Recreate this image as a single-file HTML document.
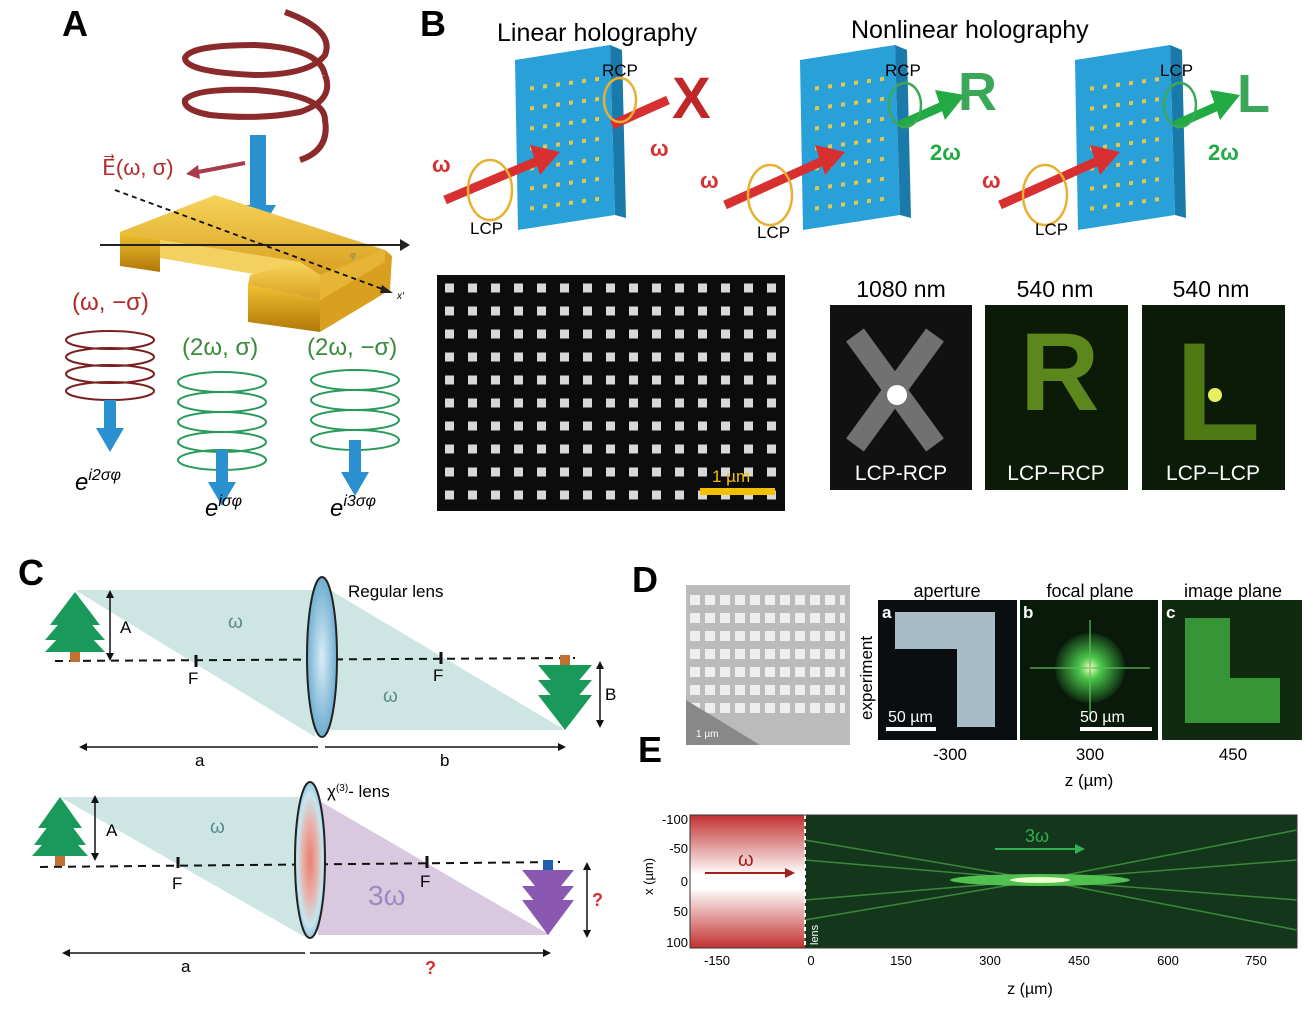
<!DOCTYPE html>
<html><head><meta charset="utf-8"><style>
body{margin:0;background:#fff;}
svg text{font-family:"Liberation Sans",sans-serif;}
.lbl{font-family:"Liberation Sans Narrow","Liberation Sans",sans-serif;font-weight:bold;font-size:36px;}
</style></head><body>
<svg width="1304" height="1020" viewBox="0 0 1304 1020" xmlns="http://www.w3.org/2000/svg">
<defs>
<linearGradient id="gold" x1="0" y1="0" x2="0" y2="1"><stop offset="0" stop-color="#f6d45a"/><stop offset="1" stop-color="#d9a020"/></linearGradient>
<linearGradient id="goldF" x1="0" y1="0" x2="0" y2="1"><stop offset="0" stop-color="#f0c030"/><stop offset="1" stop-color="#b07808"/></linearGradient>
<radialGradient id="lens" cx="0.5" cy="0.5" r="0.6"><stop offset="0" stop-color="#d8eef6"/><stop offset="1" stop-color="#5aa0c8"/></radialGradient>
<radialGradient id="lens3" cx="0.5" cy="0.5" r="0.6"><stop offset="0" stop-color="#e88070"/><stop offset="0.4" stop-color="#e8b0a8"/><stop offset="0.7" stop-color="#c8e6f0"/><stop offset="1" stop-color="#5aa0c8"/></radialGradient>
<linearGradient id="red" x1="0" y1="0" x2="0" y2="1"><stop offset="0" stop-color="#c23030"/><stop offset="0.45" stop-color="#fff"/><stop offset="0.55" stop-color="#fff"/><stop offset="1" stop-color="#c23030"/></linearGradient>
<radialGradient id="glowG" cx="0.5" cy="0.5" r="0.5"><stop offset="0" stop-color="#ffffc0"/><stop offset="0.3" stop-color="#4cc84c"/><stop offset="1" stop-color="#0c2a10"/></radialGradient>
</defs>

<!-- Panel A -->
<text x="62" y="36" class="lbl">A</text>
<g fill="none" stroke="#8b2a2a" stroke-width="6">
<path d="M285 12 Q335 30 325 55 Q310 75 255 75 Q185 72 185 58 Q190 45 255 45 Q320 48 325 75"/>
<path d="M325 75 Q335 100 300 112 Q260 120 210 115 Q183 110 185 100 Q195 88 255 90 Q325 95 325 120 Q330 150 300 160"/>
</g>
<rect x="250" y="135" width="16" height="75" fill="#2a90d0"/>
<polygon points="240,205 276,205 258,235" fill="#2a90d0"/>
<polygon points="300,262 385,250 390,262 320,300 320,275" fill="#e6b535"/>
<polygon points="120,232 215,195 385,250 320,275 300,262 160,240" fill="url(#gold)"/>
<polygon points="120,232 160,240 160,272 120,266" fill="url(#goldF)"/>
<polygon points="160,240 300,262 300,282 160,258" fill="#f3d060"/>
<polygon points="300,262 320,275 320,300 248,285 250,275" fill="url(#gold)"/>
<polygon points="248,285 320,300 320,332 248,322" fill="url(#goldF)"/>
<polygon points="320,300 385,262 385,250 392,256 390,290 320,332" fill="#d9a020"/>
<line x1="100" y1="245" x2="400" y2="245" stroke="#222" stroke-width="2"/>
<polygon points="400,239 410,245 400,251" fill="#222"/>
<line x1="115" y1="190" x2="385" y2="290" stroke="#111" stroke-width="1.8" stroke-dasharray="5,4"/>
<polygon points="382,285 393,293 380,293" fill="#222"/>
<text x="397" y="299" font-size="10" font-style="italic">x′</text>
<text x="350" y="258" font-size="9" fill="#886">φ</text>
<text x="102" y="175" font-size="22" fill="#b02a2a" font-family="Liberation Serif">E⃗(ω, σ)</text>
<line x1="245" y1="163" x2="198" y2="172" stroke="#a83a4a" stroke-width="4"/>
<polygon points="198,165 186,174 200,179" fill="#a83a4a"/>
<text x="72" y="310" font-size="24" fill="#b02a2a" font-family="Liberation Serif">(ω, −σ)</text>
<text x="182" y="355" font-size="24" fill="#3a8a3a" font-family="Liberation Serif">(2ω, σ)</text>
<text x="307" y="355" font-size="24" fill="#3a8a3a" font-family="Liberation Serif">(2ω, −σ)</text>
<g fill="none" stroke="#7a2020" stroke-width="2"><ellipse cx="110" cy="340" rx="44" ry="9"/><ellipse cx="110" cy="357" rx="44" ry="9"/><ellipse cx="110" cy="374" rx="44" ry="9"/><ellipse cx="110" cy="391" rx="44" ry="9"/></g>
<g fill="none" stroke="#2a9a5a" stroke-width="2"><ellipse cx="222" cy="382" rx="44" ry="10"/><ellipse cx="222" cy="402" rx="44" ry="10"/><ellipse cx="222" cy="422" rx="44" ry="10"/><ellipse cx="222" cy="442" rx="44" ry="10"/><ellipse cx="222" cy="460" rx="44" ry="10"/></g>
<g fill="none" stroke="#2a9a5a" stroke-width="2"><ellipse cx="355" cy="380" rx="44" ry="10"/><ellipse cx="355" cy="400" rx="44" ry="10"/><ellipse cx="355" cy="420" rx="44" ry="10"/><ellipse cx="355" cy="440" rx="44" ry="10"/></g>
<g fill="#2a90d0">
<rect x="104" y="400" width="12" height="30"/><polygon points="96,428 124,428 110,452"/>
<rect x="216" y="450" width="12" height="35"/><polygon points="208,482 236,482 222,506"/>
<rect x="349" y="440" width="12" height="35"/><polygon points="341,472 369,472 355,496"/>
</g>
<text x="75" y="490" font-size="24" font-family="Liberation Serif" font-style="italic">e<tspan dy="-10" font-size="16">i2σφ</tspan></text>
<text x="205" y="516" font-size="24" font-family="Liberation Serif" font-style="italic">e<tspan dy="-10" font-size="16">iσφ</tspan></text>
<text x="330" y="516" font-size="24" font-family="Liberation Serif" font-style="italic">e<tspan dy="-10" font-size="16">i3σφ</tspan></text>

<!-- Panel B -->
<text x="420" y="36" class="lbl">B</text>
<text x="497" y="41" font-size="25">Linear holography</text>
<text x="851" y="38" font-size="25">Nonlinear holography</text>
<polygon points="515,60 610,45 615,215 518,230" fill="#2aa0d8"/>
<polygon points="610,45 622,50 626,218 615,215" fill="#1a7aaa"/>
<polygon points="800,60 895,45 900,215 803,230" fill="#2aa0d8"/>
<polygon points="895,45 907,50 911,218 900,215" fill="#1a7aaa"/>
<polygon points="1075,60 1170,45 1175,215 1078,230" fill="#2aa0d8"/>
<polygon points="1170,45 1182,50 1186,218 1175,215" fill="#1a7aaa"/>
<g fill="#e0c850">
<path d="M530 85h75M530 105h75M530 125h75M530 145h75M530 165h75M530 185h75M530 205h75" stroke="#e0c850" stroke-width="4" stroke-dasharray="4,9" transform="skewY(-8) translate(0,78)"/>
<path d="M815 85h75M815 105h75M815 125h75M815 145h75M815 165h75M815 185h75M815 205h75" stroke="#e0c850" stroke-width="4" stroke-dasharray="4,9" transform="skewY(-8) translate(0,118)"/>
<path d="M1090 85h75M1090 105h75M1090 125h75M1090 145h75M1090 165h75M1090 185h75M1090 205h75" stroke="#e0c850" stroke-width="4" stroke-dasharray="4,9" transform="skewY(-8) translate(0,157)"/>
</g>
<g>
<line x1="445" y1="200" x2="540" y2="160" stroke="#d83030" stroke-width="9"/><polygon points="530,145 560,152 540,175" fill="#d83030"/>
<line x1="725" y1="205" x2="825" y2="160" stroke="#d83030" stroke-width="9"/><polygon points="815,145 845,152 825,175" fill="#d83030"/>
<line x1="1000" y1="205" x2="1100" y2="160" stroke="#d83030" stroke-width="9"/><polygon points="1090,145 1120,152 1100,175" fill="#d83030"/>
<line x1="612" y1="125" x2="668" y2="100" stroke="#d83030" stroke-width="9"/>
<line x1="900" y1="125" x2="945" y2="105" stroke="#22aa44" stroke-width="9"/><polygon points="935,90 965,95 945,120" fill="#22aa44"/>
<line x1="1175" y1="125" x2="1220" y2="105" stroke="#22aa44" stroke-width="9"/><polygon points="1210,90 1240,95 1220,120" fill="#22aa44"/>
</g>
<text x="672" y="118" font-size="58" font-weight="bold" fill="#c02828">X</text>
<text x="958" y="110" font-size="54" font-weight="bold" fill="#3aa858">R</text>
<text x="1237" y="112" font-size="54" font-weight="bold" fill="#3aa858">L</text>
<g fill="none" stroke="#e8b030" stroke-width="2.5">
<ellipse cx="490" cy="190" rx="22" ry="30"/><ellipse cx="620" cy="100" rx="16" ry="22"/>
<ellipse cx="770" cy="195" rx="22" ry="30"/><ellipse cx="905" cy="105" rx="16" ry="22" stroke="#3aa858"/>
<ellipse cx="1045" cy="195" rx="22" ry="30"/><ellipse cx="1180" cy="105" rx="16" ry="22" stroke="#3aa858"/>
</g>
<g font-size="17">
<text x="470" y="234">LCP</text><text x="602" y="76">RCP</text>
<text x="757" y="238">LCP</text><text x="885" y="76">RCP</text>
<text x="1035" y="235">LCP</text><text x="1160" y="76">LCP</text>
</g>
<g font-size="22" font-family="Liberation Serif" font-weight="bold" fill="#d83030">
<text x="432" y="172">ω</text><text x="650" y="156">ω</text><text x="700" y="188">ω</text><text x="982" y="188">ω</text>
</g>
<g font-size="22" font-family="Liberation Serif" font-weight="bold" fill="#22aa44">
<text x="930" y="160">2ω</text><text x="1208" y="160">2ω</text>
</g>
<rect x="437" y="275" width="348" height="236" fill="#0c0c0c"/>
<path d="M445 288h335M445 311h335M445 334h335M445 357h335M445 380h335M445 403h335M445 426h335M445 449h335M445 472h335M445 495h335" stroke="#d8d8d8" stroke-width="9" stroke-dasharray="9,14"/>
<rect x="700" y="488" width="75" height="7" fill="#f0c000"/>
<text x="712" y="482" font-size="17" fill="#f0c000">1 µm</text>
<g font-size="23" text-anchor="middle">
<text x="901" y="297">1080 nm</text><text x="1055" y="297">540 nm</text><text x="1211" y="297">540 nm</text>
</g>
<rect x="830" y="305" width="142" height="185" fill="#111"/>
<rect x="985" y="305" width="143" height="185" fill="#0c1a08"/>
<rect x="1142" y="305" width="143" height="185" fill="#0c1a08"/>
<path d="M855 335l80 110M935 335l-80 110" stroke="#9a9a9a" stroke-width="22" opacity="0.7"/>
<circle cx="897" cy="395" r="10" fill="#fff"/>
<text x="1020" y="410" font-size="110" font-weight="bold" fill="#6a9a20" opacity="0.85">R</text>
<text x="1175" y="440" font-size="140" font-weight="bold" fill="#5a8a18" opacity="0.85">L</text>
<circle cx="1215" cy="395" r="7" fill="#e8f060"/>
<g font-size="21" fill="#fff" text-anchor="middle">
<text x="901" y="480">LCP-RCP</text><text x="1056" y="480">LCP−RCP</text><text x="1213" y="480">LCP−LCP</text>
</g>

<!-- Panel C -->
<text x="18" y="585" class="lbl">C</text>
<polygon points="75,590 315,590 315,737" fill="#cde6e4"/>
<polygon points="330,590 565,730 330,730" fill="#cde6e4"/>
<line x1="55" y1="661" x2="575" y2="658" stroke="#111" stroke-width="2" stroke-dasharray="8,6"/>
<ellipse cx="322" cy="657" rx="15" ry="80" fill="url(#lens)" stroke="#222" stroke-width="2"/>
<polygon points="75,592 100,625 50,625" fill="#1a9a5a"/><polygon points="75,605 105,640 45,640" fill="#1a9a5a"/><polygon points="75,620 105,652 45,652" fill="#1a9a5a"/>
<rect x="70" y="652" width="10" height="10" fill="#c07030"/>
<rect x="560" y="655" width="10" height="10" fill="#c07030"/>
<polygon points="565,730 538,695 592,695" fill="#1a9a5a"/><polygon points="565,712 538,680 592,680" fill="#1a9a5a"/><polygon points="565,697 538,665 592,665" fill="#1a9a5a"/>
<polygon points="60,797 305,797 305,937" fill="#cde6e4"/>
<polygon points="318,800 550,935 318,935" fill="#d8c8e0"/>
<line x1="40" y1="867" x2="560" y2="862" stroke="#111" stroke-width="2" stroke-dasharray="8,6"/>
<ellipse cx="310" cy="860" rx="15" ry="78" fill="url(#lens3)" stroke="#222" stroke-width="2"/>
<polygon points="60,797 82,828 38,828" fill="#1a9a5a"/><polygon points="60,810 86,845 34,845" fill="#1a9a5a"/><polygon points="60,825 88,856 32,856" fill="#1a9a5a"/>
<rect x="55" y="856" width="10" height="10" fill="#c07030"/>
<rect x="543" y="860" width="10" height="10" fill="#2060b0"/>
<polygon points="548,935 522,900 574,900" fill="#8a58b0"/><polygon points="548,918 522,886 574,886" fill="#8a58b0"/><polygon points="548,902 522,870 574,870" fill="#8a58b0"/>
<g stroke="#111" stroke-width="1.5">
<line x1="110" y1="593" x2="110" y2="658"/><line x1="600" y1="664" x2="600" y2="725"/>
<line x1="82" y1="747" x2="318" y2="747"/><line x1="325" y1="747" x2="563" y2="747"/>
<line x1="196" y1="655" x2="196" y2="667" stroke-width="3"/><line x1="441" y1="652" x2="441" y2="664" stroke-width="3"/>
<line x1="95" y1="858" x2="95" y2="798"/><line x1="587" y1="865" x2="587" y2="935"/>
<line x1="65" y1="953" x2="305" y2="953"/><line x1="310" y1="953" x2="548" y2="953"/>
<line x1="178" y1="857" x2="178" y2="868" stroke-width="3"/><line x1="427" y1="856" x2="427" y2="868" stroke-width="3"/>
</g>
<g fill="#111"><polygon points="106,598 110,590 114,598"/><polygon points="106,653 110,661 114,653"/><polygon points="596,669 600,661 604,669"/><polygon points="596,720 600,728 604,720"/><polygon points="87,743 79,747 87,751"/><polygon points="558,743 566,747 558,751"/><polygon points="91,803 95,795 99,803"/><polygon points="91,853 95,861 99,853"/><polygon points="583,870 587,862 591,870"/><polygon points="583,930 587,938 591,930"/><polygon points="70,949 62,953 70,957"/><polygon points="543,949 551,953 543,957"/></g>
<g font-size="17">
<text x="120" y="633">A</text><text x="188" y="684">F</text><text x="433" y="681">F</text><text x="605" y="700">B</text>
<text x="195" y="766">a</text><text x="440" y="766">b</text><text x="348" y="597">Regular lens</text>
<text x="106" y="836">A</text><text x="172" y="889">F</text><text x="420" y="887">F</text><text x="181" y="972">a</text>
<text x="327" y="797">χ<tspan dy="-6" font-size="10">(3)</tspan><tspan dy="6">- lens</tspan></text>
</g>
<text x="228" y="628" font-size="19" fill="#5a8a8a" font-family="Liberation Serif">ω</text>
<text x="383" y="702" font-size="19" fill="#5a8a8a" font-family="Liberation Serif">ω</text>
<text x="210" y="833" font-size="19" fill="#5a8a8a" font-family="Liberation Serif">ω</text>
<text x="368" y="905" font-size="28" fill="#a088c0" font-family="Liberation Serif">3ω</text>
<text x="592" y="906" font-size="18" font-weight="bold" fill="#d03030">?</text>
<text x="425" y="974" font-size="18" font-weight="bold" fill="#d03030">?</text>

<!-- Panel D -->
<text x="632" y="592" class="lbl">D</text>
<rect x="686" y="585" width="164" height="160" fill="#bbbbbb"/>
<path d="M690 600h155M690 618h155M690 636h155M690 654h155M690 672h155M690 690h155M690 708h155" stroke="#eee" stroke-width="10" stroke-dasharray="10,5"/>
<polygon points="686,745 686,700 760,745" fill="#888"/>
<text x="696" y="737" font-size="10" fill="#fff">1 µm</text>
<g font-size="18" text-anchor="middle"><text x="947" y="597">aperture</text><text x="1090" y="597">focal plane</text><text x="1233" y="597">image plane</text></g>
<text transform="translate(872,720) rotate(-90)" font-size="17">experiment</text>
<rect x="878" y="600" width="139" height="140" fill="#0a0e10"/>
<path d="M895 612h100v115h-38v-78h-62z" fill="#a8bcc8"/>
<rect x="1020" y="600" width="138" height="140" fill="#0a1a0a"/>
<circle cx="1090" cy="668" r="35" fill="url(#glowG)"/>
<path d="M1030 668h120M1090 620v100" stroke="#60c060" stroke-width="2" opacity="0.6"/>
<rect x="1162" y="600" width="140" height="140" fill="#102a10"/>
<path d="M1185 618h45v60h50v45h-95z" fill="#40b040" opacity="0.8"/>
<g font-size="17" font-weight="bold" fill="#fff"><text x="882" y="618">a</text><text x="1023" y="618">b</text><text x="1166" y="618">c</text></g>
<rect x="886" y="727" width="50" height="4" fill="#fff"/><text x="888" y="722" font-size="16" fill="#fff">50 µm</text>
<rect x="1080" y="727" width="72" height="4" fill="#fff"/><text x="1080" y="722" font-size="16" fill="#fff">50 µm</text>
<g font-size="17" text-anchor="middle"><text x="950" y="760">-300</text><text x="1090" y="760">300</text><text x="1233" y="760">450</text><text x="1089" y="786">z (µm)</text></g>

<!-- Panel E -->
<text x="638" y="762" class="lbl">E</text>
<rect x="690" y="815" width="115" height="133" fill="url(#red)"/>
<rect x="805" y="815" width="492" height="133" fill="#14361a"/>
<path d="M805 840L1040 880L1297 830M805 920L1040 880L1297 930M805 860L1040 880L1297 860M805 900L1040 880L1297 900" stroke="#3a8a3a" stroke-width="1.5" fill="none"/>
<ellipse cx="1040" cy="880" rx="90" ry="6" fill="#50c050"/>
<ellipse cx="1040" cy="880" rx="30" ry="3" fill="#f0ffd0"/>
<line x1="805" y1="815" x2="805" y2="948" stroke="#fff" stroke-width="2" stroke-dasharray="4,3"/>
<text transform="translate(818,945) rotate(-90)" font-size="11" fill="#fff">lens</text>
<line x1="705" y1="873" x2="785" y2="873" stroke="#a02020" stroke-width="2"/><polygon points="785,868 795,873 785,878" fill="#a02020"/>
<text x="738" y="866" font-size="20" fill="#a02020" font-family="Liberation Serif">ω</text>
<line x1="995" y1="849" x2="1075" y2="849" stroke="#30b050" stroke-width="2"/><polygon points="1075,844 1085,849 1075,854" fill="#30b050"/>
<text x="1025" y="842" font-size="18" fill="#30b050" font-family="Liberation Serif">3ω</text>
<rect x="690" y="815" width="607" height="133" fill="none" stroke="#333"/>
<g font-size="13" text-anchor="end"><text x="688" y="824">-100</text><text x="688" y="853">-50</text><text x="688" y="886">0</text><text x="688" y="916">50</text><text x="688" y="947">100</text></g>
<text transform="translate(653,895) rotate(-90)" font-size="13">x (µm)</text>
<g font-size="13" text-anchor="middle"><text x="717" y="965">-150</text><text x="811" y="965">0</text><text x="901" y="965">150</text><text x="990" y="965">300</text><text x="1079" y="965">450</text><text x="1168" y="965">600</text><text x="1256" y="965">750</text></g>
<text x="1030" y="994" font-size="16" text-anchor="middle">z (µm)</text>
</svg>
</body></html>
